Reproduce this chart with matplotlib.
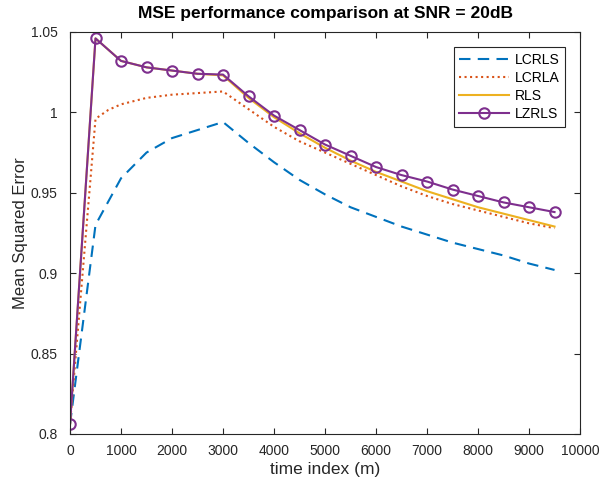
import numpy as np
import matplotlib
matplotlib.use("Agg")
import matplotlib.pyplot as plt
from matplotlib.ticker import FuncFormatter

# --- datos ---
t = [0, 500, 1000, 1500, 2000, 2500, 3000, 3500, 4000, 4500,
     5000, 5500, 6000, 6500, 7000, 7500, 8000, 8500, 9000, 9500]
t_lcrla = [0, 500, 750, 1000, 1500, 2000, 2500, 3000, 3500, 4000, 4500,
           5000, 5500, 6000, 6500, 7000, 7500, 8000, 8500, 9000, 9500]

mse_lcrls = [0.806, 0.930, 0.959, 0.975, 0.984, 0.989, 0.994, 0.981, 0.969, 0.958,
             0.949, 0.941, 0.935, 0.929, 0.924, 0.919, 0.915, 0.911, 0.906, 0.902]
mse_lcrla = [0.806, 0.996, 1.0015, 1.005, 1.009, 1.011, 1.012, 1.013, 1.002, 0.991, 0.982,
             0.975, 0.968, 0.961, 0.954, 0.948, 0.943, 0.939, 0.935, 0.931, 0.928]
mse_rls = [0.806, 1.046, 1.032, 1.028, 1.026, 1.024, 1.023, 1.009, 0.997, 0.987,
           0.978, 0.970, 0.963, 0.957, 0.951, 0.946, 0.941, 0.937, 0.933, 0.929]
mse_lzrls = [0.806, 1.046, 1.032, 1.028, 1.026, 1.024, 1.0235, 1.010, 0.998, 0.989,
             0.980, 0.973, 0.966, 0.961, 0.957, 0.952, 0.948, 0.944, 0.941, 0.938]

xticks = list(range(0, 10001, 1000))
yticks = [0.8, 0.85, 0.9, 0.95, 1.0, 1.05]

plt.rcParams['font.family'] = ['Liberation Sans', 'DejaVu Sans']
axcol = '#262626'

fig = plt.figure(figsize=(6.03, 4.88), dpi=100)
ax = fig.add_axes([0.1161, 0.1107, 0.8458, 0.8238])

ax.plot(t, mse_lcrls, '--', color='#0072BD', lw=1.5, dashes=(5.5, 3.5), label='LCRLS')
ax.plot(t_lcrla, mse_lcrla, ':', color='#D95319', lw=1.5, label='LCRLA')
ax.plot(t, mse_rls, '-', color='#EDB120', lw=1.5, label='RLS')
ax.plot(t, mse_lzrls, '-', color='#7E2F8E', lw=1.5, marker='o', ms=7.5,
        mfc='none', mew=1.5, label='LZRLS')

ax.set_xlim(0, 10000)
ax.set_ylim(0.8, 1.05)
ax.set_xticks(xticks)
ax.set_yticks(yticks)
ax.yaxis.set_major_formatter(FuncFormatter(lambda v, p: '%g' % round(v, 2)))
ax.tick_params(direction='in', top=True, right=True, length=4, width=0.8,
               labelsize=10, colors=axcol)
ax.tick_params(axis='x', pad=7)
ax.tick_params(axis='y', pad=9)
for s in ax.spines.values():
    s.set_color(axcol)
    s.set_linewidth(0.8)

ax.set_xlabel('time index (m)', fontsize=12.5, color=axcol, labelpad=3)
ax.set_ylabel('Mean Squared Error', fontsize=12, color=axcol, labelpad=2)
ax.set_title('MSE performance comparison at SNR = 20dB', fontsize=12.5,
             fontweight='bold', color='black', pad=10)

leg = ax.legend(loc='upper right', bbox_to_anchor=(0.984, 0.98), fontsize=10,
                fancybox=False, framealpha=1, edgecolor=axcol, handlelength=3.6,
                labelspacing=0.3, borderpad=0.4, handletextpad=0.4)
leg.get_frame().set_linewidth(0.8)

fig.savefig('out.png', dpi=100)
